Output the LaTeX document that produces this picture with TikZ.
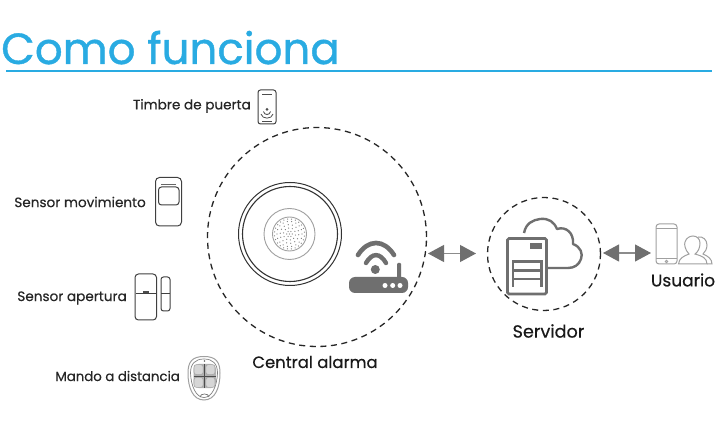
\documentclass[tikz,border=0pt]{standalone}
\usepackage{fontspec}
\setmainfont{Poppins}
\newfontfamily\medf[FakeBold=0.35]{Poppins}
\newfontfamily\ttlf[FakeBold=0.9]{Poppins}
\usetikzlibrary{arrows.meta}
\definecolor{ttl}{HTML}{29ABE2}
\definecolor{gr}{HTML}{6F6F6F}
\definecolor{lg}{HTML}{A0A0A0}
\tikzset{
 lab/.style={inner sep=0pt,font=\medf\fontsize{13.6}{15}\selectfont,text=black!85},
 biglab/.style={inner sep=0pt,font=\medf\fontsize{16.6}{18}\selectfont,text=black!90},
 ring/.style={draw=black!85,line width=1.3pt,dash pattern=on 6pt off 4.6pt},
 dev/.style={draw=black!75,line width=1pt,rounded corners=2.5pt},
 dbl/.style={line width=1.1pt,draw=gr!80,{Triangle[length=16pt,width=17pt,fill=gr,color=gr]}-{Triangle[length=16pt,width=17pt,fill=gr,color=gr]}},
}
\begin{document}
\begin{tikzpicture}[x=1pt,y=-1pt]
\useasboundingbox (0,0) rectangle (720,443);
\fill[white] (0,0) rectangle (720,443);
\node[anchor=base west,inner sep=0pt,text=ttl,font=\ttlf\fontsize{43.6}{50}\selectfont] (title) at (1,64) {Como funciona};
\coordinate (ruleL) at (6,71); \coordinate (ruleR) at (712,71);
\draw[ttl,line width=1.6pt] (ruleL) -- (ruleR);
% rings
\node[circle,ring,minimum size=219pt,inner sep=0pt] (cA) at (317,237) {};
\node[circle,ring,minimum size=113pt,inner sep=0pt] (cS) at (544,254) {};
% labels
\node[lab,anchor=east] (timbre) at (251,106) {Timbre de puerta};
\node[lab,anchor=east] (mov) at (146,202) {Sensor movimiento};
\node[lab,anchor=east] (apert) at (127,298) {Sensor apertura};
\node[lab,anchor=east,font=\medf\fontsize{13.3}{15}\selectfont] (mando) at (180,376) {Mando a distancia};
\node[biglab,font=\medf\fontsize{16.4}{18}\selectfont] (central) at (315,362) {Central alarma};
\node[biglab,font=\medf\fontsize{17.6}{18}\selectfont] (serv) at (548.5,331) {Servidor};
\node[biglab,font=\medf\fontsize{17}{18}\selectfont] (usu) at (683,280) {Usuario};
% doorbell
\draw[dev] (258,90) rectangle (276,124);
\draw[black!70,line width=.8pt] (262,94.5) -- (272,94.5);
\draw[black!70,line width=.8pt] (261,114) .. controls (262,119.5) and (272,119.5) .. (273,114);
\draw[black!70,line width=.8pt] (263.5,111.5) .. controls (264,115.5) and (270,115.5) .. (270.5,111.5);
\fill[black!70] (267,109.5) circle (1.5pt);
\draw[black!70,line width=.7pt] (262,121.5) -- (272,121.5);
% motion sensor
\draw[dev,rounded corners=4pt] (155.5,177.5) rectangle (181.5,226);
\draw[dev,rounded corners=3pt] (158.5,187) rectangle (179,205);
\draw[black!60,line width=1pt] (161,185) -- (176,185);
% door sensor
\draw[dev,rounded corners=3.5pt] (135,274) rectangle (156.5,320);
\draw[black!75,line width=1pt] (136,293.5) -- (155.5,293.5);
\draw[black!70,line width=1.2pt] (143,292) -- (149,292);
\draw[dev] (161,277) rectangle (170,311);
\draw[black!75,line width=.8pt] (161,293) -- (170,293);
% remote
\draw[lg,line width=1pt] (204,356.5) .. controls (192,356.5) and (188,362) .. (188,373) .. controls (188,388) and (193,400) .. (204,400) .. controls (215,400) and (220,388) .. (220,373) .. controls (220,362) and (216,356.5) .. (204,356.5) -- cycle;
\draw[black!50,line width=.7pt] (204,359) .. controls (195,359) and (190.5,364) .. (190.5,373) .. controls (191,386) and (196,397.5) .. (204,397.5) .. controls (212,397.5) and (217,386) .. (217.5,373) .. controls (217.5,364) and (213,359) .. (204,359) -- cycle;
\fill[black!60] (204.5,361) circle (.8pt);
\fill[black!30,rounded corners=5pt] (193.5,364) rectangle (216,388);
\foreach \cx/\cy in {198.6/369.6,210.4/369.6,198.6/382.4,210.4/382.4}
  \draw[black!35,fill=black!16,line width=.6pt,rounded corners=2.5pt] (\cx-4.6,\cy-5) rectangle (\cx+4.6,\cy+5);
\draw[black!70,line width=.8pt] (204.5,364) -- (204.5,388) (193.5,376) -- (216,376);
\draw[black!55,line width=.7pt] (200,397) .. controls (200,393) and (209,393) .. (209,397);
% siren
\draw[black!80,line width=1pt] (290,234) circle (51.5pt);
\draw[black!80,line width=1.1pt] (290,234) circle (47.5pt);
\draw[lg,line width=.9pt] (289.5,234) circle (25.5pt);
\draw[lg,line width=.9pt] (289.5,234) circle (17pt);
\foreach \r/\n/\o in {2.8/6/0,6/10/10,9.3/14/5,12.6/18/0,15/24/8}
 \foreach \i in {1,...,\n}
  \fill[black!52] ({289.5+\r*cos(\o+\i*360/\n)},{234+\r*sin(\o+\i*360/\n)}) circle (.62pt);
\fill[black!52] (289.5,234) circle (.62pt);
% wifi router
\begin{scope}[gr]
\draw[line width=4.6pt,line cap=round] (358,255) .. controls (368,239) and (384,239) .. (394,255);
\draw[line width=4.4pt,line cap=round] (366,263) .. controls (372,252.5) and (380,252.5) .. (386,263);
\fill (375.3,269.5) circle (4.5pt);
\fill[rounded corners=6pt] (349,277) rectangle (408,293);
\fill[rounded corners=1pt] (397,263) rectangle (401,278);
\fill[white] (385,285.5) circle (2.5pt) (392.7,285.5) circle (2.5pt) (400,285.5) circle (2.5pt);
\end{scope}
% arrows
\coordinate (a1) at (428,253.5); \coordinate (a2) at (476,253.5);
\draw[dbl] (a1) -- (a2);
\coordinate (b1) at (603,253); \coordinate (b2) at (651,253);
\draw[dbl] (b1) -- (b2);
% server + cloud
\begin{scope}[gr,line width=2.4pt]
\draw[line join=round] (524,233) .. controls (526,223) and (533,220) .. (540,219) .. controls (549,218) and (554,222) .. (557,229) .. controls (566,226) and (574,233) .. (573,244) .. controls (581,247) and (583,254) .. (581,259) .. controls (579,265) and (574,268) .. (568,268) -- (548,268);
\draw[rounded corners=1.5pt,line width=2.6pt] (507.5,294) -- (507.5,238.5) -- (546.5,238.5) -- (546.5,294) -- cycle;
\fill (530,243) rectangle (542,249);
\draw (513,287) -- (513,261.5) -- (541.5,261.5) -- (541.5,287);
\draw (513,270.5) -- (541.5,270.5) (513,279) -- (541.5,279);
\end{scope}
% phone and users
\draw[lg,line width=1pt,rounded corners=3pt] (656,224) rectangle (677,264);
\draw[lg,line width=1pt] (656,228.5) -- (677,228.5) (656,259) -- (677,259);
\draw[lg,line width=.8pt] (666.5,261.5) circle (1.2pt);
\draw[lg,line width=1pt] (678.5,264) .. controls (679,258) and (684,256) .. (689,254) .. controls (685,250) and (684,244) .. (685,242) .. controls (686,238) and (690,236) .. (693,236) .. controls (697,236) and (700,239) .. (700,243) .. controls (700,248) and (698,252) .. (695,254) .. controls (702,256) and (707,258) .. (707,264) -- cycle;
\draw[lg,line width=1pt] (698,237) .. controls (703,236) and (707,240) .. (707,245) .. controls (707,249) and (705,252) .. (703,254) .. controls (708,256) and (712,259) .. (712,264) -- (707,264);
\end{tikzpicture}
\end{document}
